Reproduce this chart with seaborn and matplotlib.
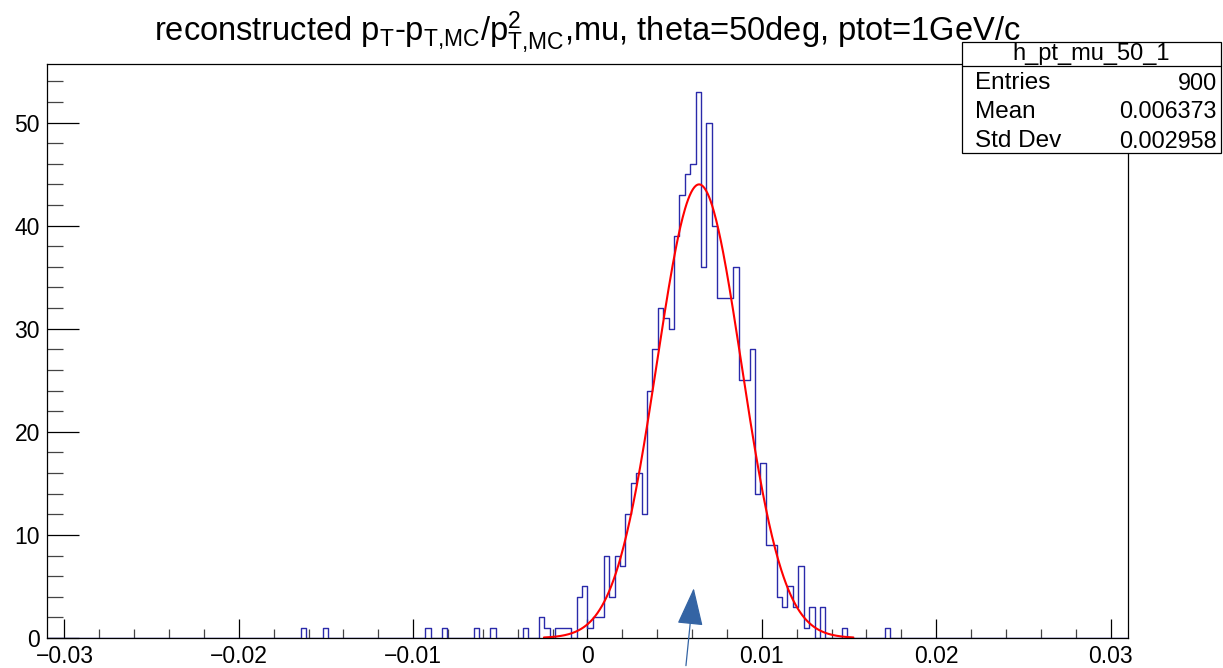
import numpy as np
import pandas as pd
import matplotlib
matplotlib.use("Agg")
import matplotlib.pyplot as plt
from matplotlib.patches import Rectangle
from matplotlib.lines import Line2D
from matplotlib.ticker import MultipleLocator, FixedLocator
import seaborn as sns

# ---------------- data ----------------
hist_lo, hist_hi, n_bins = -0.031, 0.031, 200
# non-empty bins: index relative to the bin starting at 0, and entries
bin_offset = [-53, -49, -30, -27, -21, -18, -12, -9, -8, -6, -5, -4, -2, -1,
              0, 1, 2, 3, 4, 5, 6, 7, 8, 9, 10, 11, 12, 13, 14, 15, 16, 17,
              18, 19, 20, 21, 22, 23, 24, 25, 26, 27, 28, 29, 30, 31, 32, 33,
              34, 35, 36, 37, 38, 39, 40, 41, 43, 47, 55]
bin_count = [1, 1, 1, 1, 1, 1, 1, 2, 1, 1, 1, 1, 4, 5,
             1, 2, 2, 8, 4, 8, 7, 12, 15, 16, 12, 24, 28, 32, 31, 30, 39, 43,
             45, 46, 53, 36, 50, 40, 33, 33, 33, 36, 25, 25, 28, 14, 17, 9,
             9, 4, 3, 5, 3, 7, 1, 3, 3, 1, 1]
# gaussian fit parameters
fit_const, fit_mean, fit_sigma = 44.0, 0.00640, 0.00242
fit_lo, fit_hi = -0.0025, 0.01525
# stats box
stat_name = "h_pt_mu_50_1"
stat_labels = ["Entries", "Mean", "Std Dev"]
stat_values = ["900", "0.006373", "0.002958"]
title = (r"reconstructed p$_\mathrm{T}$-p$_\mathrm{T{,}MC}$/p$^{2}_\mathrm{T{,}MC}$"
         r",mu, theta=50deg, ptot=1GeV/c")
x_ticks = [-0.03, -0.02, -0.01, 0, 0.01, 0.02, 0.03]
x_ticklabels = ["\u22120.03", "\u22120.02", "\u22120.01", "0", "0.01", "0.02", "0.03"]
y_ticks = [0, 10, 20, 30, 40, 50]

# ---------------- style ----------------
sns.set_style("white")
plt.rcParams["font.family"] = ["Liberation Sans", "DejaVu Sans"]
plt.rcParams["mathtext.fontset"] = "custom"
plt.rcParams["mathtext.rm"] = "Liberation Sans"
plt.rcParams["mathtext.it"] = "Liberation Sans:italic"
plt.rcParams["mathtext.bf"] = "Liberation Sans:bold"
for key in ["text.color", "axes.labelcolor", "xtick.color", "ytick.color",
            "axes.edgecolor"]:
    plt.rcParams[key] = "black"

W, H = 1223, 668
fig = plt.figure(figsize=(W / 100, H / 100), dpi=100)
fL, fR, fT, fB = 47, 1128, 64.3, 638
ax = fig.add_axes([fL / W, 1 - fB / H, (fR - fL) / W, (fB - fT) / H])

bw = (hist_hi - hist_lo) / n_bins
zero_bin = int(round(-hist_lo / bw))
df = pd.DataFrame({
    "center": [hist_lo + (zero_bin + k + 0.5) * bw for k in bin_offset],
    "count": bin_count,
})
sns.histplot(data=df, x="center", weights="count", binwidth=bw,
             binrange=(hist_lo, hist_hi),
             element="step", fill=False, color="#2a2aaa", linewidth=1.0, ax=ax)

xf = np.linspace(fit_lo, fit_hi, 400)
yf = fit_const * np.exp(-0.5 * ((xf - fit_mean) / fit_sigma) ** 2)
sns.lineplot(x=xf, y=yf, color="#ff0000", linewidth=1.5, ax=ax)

ax.set_xlim(hist_lo, hist_hi)
ax.set_ylim(0, 1.05 * max(bin_count))
ax.set_xlabel("")
ax.set_ylabel("")
ax.xaxis.set_major_locator(FixedLocator(x_ticks))
ax.set_xticklabels(x_ticklabels)
ax.xaxis.set_minor_locator(MultipleLocator(0.002))
ax.yaxis.set_major_locator(FixedLocator(y_ticks))
ax.yaxis.set_minor_locator(MultipleLocator(2))
ax.tick_params(axis="x", which="major", direction="in", length=13.5, width=0.9,
               labelsize=16.5, pad=5, color="black", top=False, bottom=True)
ax.tick_params(axis="x", which="minor", direction="in", length=6.8, width=0.9,
               color="#444444", top=False, bottom=True)
ax.tick_params(axis="y", which="major", direction="in", length=23, width=0.9,
               labelsize=16.5, pad=5, color="black", right=False, left=True)
ax.tick_params(axis="y", which="minor", direction="in", length=11.5, width=0.9,
               color="#444444", right=False, left=True)
for s in ax.spines.values():
    s.set_color("black")
    s.set_linewidth(0.9)

# title
fig.text((fL + fR) / 2 / W, 1 - 40 / H, title, ha="center", va="baseline",
         fontsize=23.5, color="black")

# arrow annotation
ax.annotate("", xy=(0.00611, 5.1), xytext=(0.00563, -2.95),
            xycoords="data", textcoords="data", annotation_clip=False,
            arrowprops=dict(arrowstyle="-|>,head_length=1.6,head_width=0.55",
                            color="#3464a4", linewidth=0.9, mutation_scale=15))

# stats box
bx0, bx1, by0, by1, bsep = 962, 1220.5, 42, 153, 65.7
fig.add_artist(Rectangle((bx0 / W, 1 - by1 / H), (bx1 - bx0) / W, (by1 - by0) / H,
                         transform=fig.transFigure, facecolor="white",
                         edgecolor="black", linewidth=0.9, zorder=5))
fig.add_artist(Line2D([bx0 / W, bx1 / W], [1 - bsep / H, 1 - bsep / H],
                      transform=fig.transFigure, color="black", linewidth=0.9, zorder=6))
fig.text((bx0 + bx1) / 2 / W, 1 - 54 / H, stat_name, ha="center", va="center",
         fontsize=17, zorder=7)
row_y = [83, 112, 141]
for lab, val, yy in zip(stat_labels, stat_values, row_y):
    fig.text(975 / W, 1 - yy / H, lab, ha="left", va="center", fontsize=17.5, zorder=7)
    fig.text(1217 / W, 1 - yy / H, val, ha="right", va="center", fontsize=16.8,
             zorder=7)

fig.savefig("out.png", dpi=100)
